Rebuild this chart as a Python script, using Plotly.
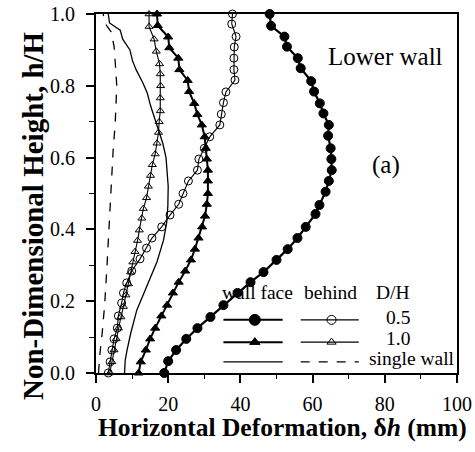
import plotly.graph_objects as go

# ---------------- data ----------------
# D/H = 0.5, wall face (filled circles)
y_face05 = [0.0, 0.033, 0.064, 0.095, 0.125, 0.156, 0.189, 0.223, 0.253, 0.281, 0.315, 0.345, 0.376, 0.407,
            0.443, 0.468, 0.505, 0.535, 0.565, 0.596, 0.626, 0.661, 0.691, 0.723, 0.751, 0.784, 0.813, 0.849,
            0.877, 0.909, 0.937, 0.967, 1.0]
x_face05 = [18.9, 20.0, 22.2, 25.0, 28.1, 31.7, 35.3, 39.2, 42.8, 46.4, 50.0, 53.1, 55.8, 58.1,
            60.8, 61.9, 63.6, 64.5, 65.3, 65.2, 65.0, 64.3, 64.5, 63.0, 62.0, 60.4, 59.6, 56.7,
            55.9, 52.9, 52.2, 48.5, 48.1]

# D/H = 0.5, behind (open circles)
y_behind05 = [0.0, 0.031, 0.064, 0.095, 0.125, 0.159, 0.195, 0.223, 0.251, 0.284, 0.318, 0.348, 0.376, 0.407,
              0.44, 0.47, 0.5, 0.535, 0.565, 0.596, 0.626, 0.658, 0.691, 0.721, 0.753, 0.783, 0.816, 0.845,
              0.877, 0.908, 0.937, 0.972, 1.0]
x_behind05 = [3.4, 3.9, 4.4, 5.0, 5.9, 6.2, 7.1, 7.6, 8.5, 9.9, 12.2, 14.0, 15.5, 18.2,
              20.5, 22.9, 24.1, 25.6, 28.1, 28.5, 30.0, 31.5, 34.3, 34.7, 35.3, 36.0, 38.5, 38.2,
              38.2, 38.3, 38.8, 37.6, 37.8]

# D/H = 1.0, wall face (filled triangles)
y_face10 = [0.0, 0.031, 0.064, 0.095, 0.125, 0.159, 0.189, 0.223, 0.253, 0.284, 0.315, 0.345, 0.376, 0.407,
            0.437, 0.47, 0.5, 0.535, 0.565, 0.596, 0.626, 0.658, 0.691, 0.72, 0.751, 0.784, 0.815, 0.845,
            0.877, 0.906, 0.936, 0.968, 1.0]
x_face10 = [11.8, 12.4, 13.8, 15.0, 16.4, 18.1, 19.7, 21.3, 22.9, 24.7, 26.3, 27.4, 28.4, 29.4,
            30.2, 30.7, 31.0, 31.0, 31.0, 30.7, 30.4, 30.1, 29.3, 28.1, 27.2, 25.8, 25.4, 23.1,
            22.8, 20.3, 20.0, 17.1, 16.9]

# D/H = 1.0, behind (open triangles)
y_behind10 = [0.0, 0.031, 0.064, 0.095, 0.125, 0.156, 0.185, 0.217, 0.248, 0.281, 0.309, 0.338, 0.369, 0.398,
              0.431, 0.458, 0.488, 0.52, 0.55, 0.58, 0.61, 0.64, 0.67, 0.7, 0.73, 0.766, 0.8, 0.833,
              0.861, 0.896, 0.93, 0.965, 1.0]
x_behind10 = [3.8, 4.4, 5.0, 5.6, 6.2, 6.9, 7.6, 8.3, 9.0, 9.6, 10.2, 10.8, 11.5, 12.0,
              12.7, 13.1, 14.0, 14.5, 15.1, 15.6, 16.4, 16.9, 17.3, 17.5, 17.8, 17.8, 17.9, 17.8,
              17.6, 16.7, 16.1, 14.7, 14.7]

# single wall, wall face (solid line)
y_single_face = [0.0, 0.036, 0.064, 0.11, 0.175, 0.24, 0.31, 0.37, 0.42, 0.465, 0.52, 0.56, 0.6, 0.64,
                 0.68, 0.72, 0.745, 0.78, 0.81, 0.845, 0.87, 0.9, 0.93, 0.955, 0.975, 1.0]
x_single_face = [7.9, 8.1, 8.6, 9.6, 11.3, 14.0, 16.9, 18.7, 19.6, 19.9, 20.0, 19.7, 19.4, 18.5,
                 17.2, 16.0, 15.1, 14.2, 12.9, 11.1, 10.1, 9.4, 7.4, 6.7, 3.75, 3.4]

# single wall, behind (dashed line)
y_single_behind = [0.0, 0.05, 0.11, 0.19, 0.29, 0.38, 0.45, 0.5, 0.57, 0.63, 0.69, 0.75, 0.8, 0.87,
                   0.91, 0.95, 0.975, 1.0]
x_single_behind = [0.7, 1.05, 1.7, 2.4, 3.0, 3.5, 3.9, 4.0, 4.4, 4.8, 5.3, 5.6, 5.75, 5.3,
                   5.0, 4.2, 2.4, 2.0]

x_ticks = [0, 20, 40, 60, 80, 100]
y_ticks = [0.0, 0.2, 0.4, 0.6, 0.8, 1.0]

x_title = "Horizontal Deformation, δ<i>h</i> (mm)"
y_title = "Non-Dimensional Height, h/H"
legend_headers = ["wall face", "behind", "D/H"]
legend_rows = ["0.5", "1.0", "single wall"]

# ---------------- style ----------------
FONT = "Liberation Serif"
BLACK = "black"
W, H = 475, 452

fig = go.Figure()

def add_series(x, y, symbol, lw, dash="solid", msize=8):
    mode = "lines+markers" if symbol else "lines"
    fig.add_trace(go.Scatter(
        x=x, y=y, mode=mode,
        line=dict(color=BLACK, width=lw, dash=dash),
        marker=dict(symbol=symbol or "circle", size=msize, color=BLACK,
                    line=dict(color=BLACK, width=1)),
        showlegend=False, hoverinfo="skip", cliponaxis=False))

add_series(x_face05, y_face05, "circle", 2.2, msize=9)
add_series(x_behind05, y_behind05, "circle-open", 1.1, msize=8)
add_series(x_face10, y_face10, "triangle-up", 2.0, msize=8)
add_series(x_behind10, y_behind10, "triangle-up-open", 1.1, msize=7)
add_series(x_single_face, y_single_face, None, 1.3)
add_series(x_single_behind, y_single_behind, None, 1.3, dash="dash")

# ---------------- custom legend ----------------
LEG_FACE = (35.3, 51.7)
LEG_BEHIND = (56.7, 72.8)
LEG_ROW_Y = [0.148, 0.086, 0.031]
LEG_HEAD_Y = 0.225
leg_specs = [
    (0, LEG_FACE, "circle", 2.0, "solid", 11),
    (0, LEG_BEHIND, "circle-open", 1.1, "solid", 9),
    (1, LEG_FACE, "triangle-up", 2.0, "solid", 9),
    (1, LEG_BEHIND, "triangle-up-open", 1.1, "solid", 8),
    (2, LEG_FACE, None, 1.3, "solid", 0),
    (2, LEG_BEHIND, None, 1.3, "dash", 0),
]
for row, (xa, xb), sym, lw, dash, ms in leg_specs:
    yy = LEG_ROW_Y[row]
    fig.add_trace(go.Scatter(x=[xa, xb], y=[yy, yy], mode="lines",
                             line=dict(color=BLACK, width=lw, dash=dash),
                             showlegend=False, hoverinfo="skip"))
    if sym:
        fig.add_trace(go.Scatter(x=[(xa + xb) / 2 + 0.5], y=[yy], mode="markers",
                                 marker=dict(symbol=sym, size=ms, color=BLACK,
                                             line=dict(color=BLACK, width=1)),
                                 showlegend=False, hoverinfo="skip"))

ann_font = dict(family=FONT, size=25, color=BLACK)
leg_font = dict(family=FONT, size=19.5, color=BLACK)
title_font = dict(family=FONT, size=25.5, color=BLACK, weight="bold")
annotations = [
    dict(x=44.7, y=LEG_HEAD_Y, text=legend_headers[0], font=leg_font),
    dict(x=65.0, y=LEG_HEAD_Y, text=legend_headers[1], font=leg_font),
    dict(x=82.4, y=LEG_HEAD_Y, text=legend_headers[2], font=leg_font),
    dict(x=83.6, y=LEG_ROW_Y[0] + 0.008, text=legend_rows[0], font=leg_font),
    dict(x=83.6, y=LEG_ROW_Y[1] + 0.01, text=legend_rows[1], font=leg_font),
    dict(x=100.0, y=LEG_ROW_Y[2] + 0.01, text=legend_rows[2], xanchor="right", font=leg_font),
    dict(x=80.3, y=0.882, text="Lower wall", font=ann_font),
    dict(x=80.3, y=0.580, text="(a)", font=ann_font),
]
for a in annotations:
    a.setdefault("xanchor", "center")
    a.update(xref="x", yref="y", yanchor="middle", showarrow=False)

# axis titles placed as paper annotations (pixel positions converted to paper fractions)
ML, MR, MT, MB = 96, 18, 14, 79
pw, ph = W - ML - MR, H - MT - MB
annotations += [
    dict(xref="paper", yref="paper", x=(282 - ML) / pw, y=(H - MB - 427) / ph,
         text=x_title, showarrow=False, xanchor="center", yanchor="middle", font=title_font),
    dict(xref="paper", yref="paper", x=(33 - ML) / pw, y=(H - MB - 216) / ph,
         text=y_title, showarrow=False, xanchor="center", yanchor="middle", textangle=-90,
         font=dict(family=FONT, size=29, color=BLACK, weight="bold")),
]

fig.update_layout(
    width=W, height=H,
    margin=dict(l=ML, r=MR, t=MT, b=MB, autoexpand=False),
    paper_bgcolor="white", plot_bgcolor="white",
    font=dict(family=FONT, color=BLACK),
    annotations=annotations,
    showlegend=False,
)
fig.update_xaxes(
    range=[0, 100], tickvals=x_ticks, ticktext=[str(v) for v in x_ticks],
    showgrid=False, zeroline=False, automargin=False,
    showline=True, linecolor=BLACK, linewidth=2, mirror=True,
    ticks="outside", ticklen=8, tickwidth=1.5, tickcolor=BLACK,
    minor=dict(dtick=10, ticks="outside", ticklen=4, tickwidth=1.2, tickcolor=BLACK),
    tickfont=dict(family=FONT, size=20, color=BLACK),
    ticklabelstandoff=4,
)
fig.update_yaxes(
    range=[0, 1], tickvals=y_ticks, ticktext=[f"{v:.1f}" for v in y_ticks],
    showgrid=False, zeroline=False, automargin=False,
    showline=True, linecolor=BLACK, linewidth=2, mirror=True,
    ticks="outside", ticklen=8, tickwidth=1.5, tickcolor=BLACK,
    minor=dict(dtick=0.1, ticks="outside", ticklen=5, tickwidth=1.2, tickcolor=BLACK),
    tickfont=dict(family=FONT, size=20, color=BLACK),
    ticklabelstandoff=7,
)

fig.write_html("out.html", config={"displayModeBar": False},
               post_script="document.body.style.margin='0';")
